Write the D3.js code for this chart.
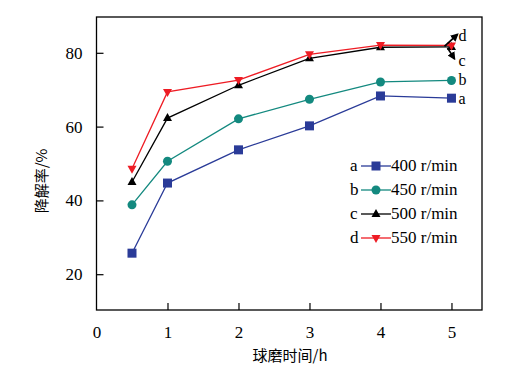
<!DOCTYPE html>
<html>
<head>
<meta charset="utf-8">
<script src="https://cdn.jsdelivr.net/npm/d3@7"></script>
<style>
  body { margin: 0; background: #fff; }
  svg { display: block; }
  .serif { font-family: "Liberation Serif", "Times New Roman", "DejaVu Serif", serif; }
  .cjk { font-family: "Noto Sans CJK SC", sans-serif; }
</style>
</head>
<body>
<svg id="chart" width="526" height="373"></svg>
<script>
// data
const times = [0.5, 1, 2, 3, 4, 5]
const seriesKeys = ["a", "b", "c", "d"]
const seriesLabels = ["400 r/min", "450 r/min", "500 r/min", "550 r/min"]
const valuesA = [25.7, 44.7, 53.7, 60.2, 68.3, 67.7]
const valuesB = [38.8, 50.6, 62.1, 67.4, 72.1, 72.5]
const valuesC = [45.0, 62.3, 71.2, 78.5, 81.5, 81.6]
const valuesD = [48.6, 69.4, 72.6, 79.6, 82.1, 82.0]
const xTicks = [0, 1, 2, 3, 4, 5]
const yTicks = [20, 40, 60, 80]

const colors = ["#2a3b98", "#13897f", "#000000", "#ee1c24"]
const symbols = ["square", "circle", "triUp", "triDown"]

const svg = d3.select("#chart")
const margin = { left: 96.5, right: 44, top: 17, bottom: 63 }
const width = 526, height = 373

const x = d3.scaleLinear().domain([0, 5.43]).range([margin.left, width - margin.right])
const y = d3.scaleLinear().domain([10.3, 89.7]).range([height - margin.bottom, margin.top])

const series = [valuesA, valuesB, valuesC, valuesD].map((vals, i) => ({
    key: seriesKeys[i],
    label: seriesLabels[i],
    color: colors[i],
    symbol: symbols[i],
    points: vals.map((v, j) => ({ t: times[j], v: v }))
}))

// frame
svg.append("rect")
    .attr("x", x.range()[0]).attr("y", y.range()[1])
    .attr("width", x.range()[1] - x.range()[0])
    .attr("height", y.range()[0] - y.range()[1])
    .attr("fill", "none").attr("stroke", "#000").attr("stroke-width", 1.3)

// axes, ticks inward
const xAxis = svg.append("g")
    .attr("transform", `translate(0,${y.range()[0]})`)
    .call(d3.axisBottom(x).tickValues(xTicks).tickFormat(d3.format("d"))
        .tickSizeInner(-7).tickSizeOuter(0).tickPadding(16))
const yAxis = svg.append("g")
    .attr("transform", `translate(${x.range()[0]},0)`)
    .call(d3.axisLeft(y).tickValues(yTicks).tickFormat(d3.format("d"))
        .tickSizeInner(-7).tickSizeOuter(0).tickPadding(14))

for (const ax of [xAxis, yAxis]) {
    ax.attr("font-family", null).attr("font-size", null)
    ax.select(".domain").remove()
    ax.selectAll("line").attr("stroke", "#000").attr("stroke-width", 1.2)
    ax.selectAll("text").attr("class", "serif").style("font-size", "17px").attr("fill", "#000")
}
xAxis.selectAll(".tick").filter(d => d === 0).select("line").remove()

// axis titles
svg.append("text")
    .attr("class", "cjk")
    .attr("x", 290).attr("y", 361)
    .attr("text-anchor", "middle")
    .style("font-size", "15px")
    .text("球磨时间/h")
svg.append("text")
    .attr("class", "cjk")
    .attr("transform", "translate(47,181) rotate(-90)")
    .attr("text-anchor", "middle")
    .style("font-size", "15px")
    .text("降解率/%")

const line = d3.line().x(d => x(d.t)).y(d => y(d.v))

function drawMarker(g, symbol, color, cx, cy) {
    if (symbol === "square") {
        g.append("rect").attr("x", cx - 4.5).attr("y", cy - 4.5)
            .attr("width", 9).attr("height", 9).attr("fill", color)
    } else if (symbol === "circle") {
        g.append("circle").attr("cx", cx).attr("cy", cy).attr("r", 4.5).attr("fill", color)
    } else if (symbol === "triUp") {
        g.append("path").attr("d", `M${cx},${cy - 5}L${cx + 4.5},${cy + 3}L${cx - 4.5},${cy + 3}Z`).attr("fill", color)
    } else {
        g.append("path").attr("d", `M${cx},${cy + 5}L${cx + 4.5},${cy - 3}L${cx - 4.5},${cy - 3}Z`).attr("fill", color)
    }
}

const plot = svg.append("g")
series.forEach(s => {
    plot.append("path").datum(s.points)
        .attr("d", line).attr("fill", "none")
        .attr("stroke", s.color).attr("stroke-width", 1.3)
    const mg = plot.append("g")
    s.points.forEach(p => drawMarker(mg, s.symbol, s.color, x(p.t), y(p.v)))
})

// end labels with arrows for c and d
svg.append("defs").append("marker")
    .attr("id", "arrow").attr("viewBox", "0 0 10 10")
    .attr("refX", 8).attr("refY", 5)
    .attr("markerWidth", 4.5).attr("markerHeight", 4.5)
    .attr("orient", "auto")
    .append("path").attr("d", "M0,0L10,5L0,10Z").attr("fill", "#000")

const last = times.length - 1
const ex = x(times[last])
svg.append("line")
    .attr("x1", ex - 7).attr("y1", y(valuesD[last]) + 1)
    .attr("x2", ex + 6).attr("y2", y(valuesD[last]) - 11)
    .attr("stroke", "#000").attr("stroke-width", 1.8).attr("marker-end", "url(#arrow)")
svg.append("line")
    .attr("x1", ex - 4).attr("y1", y(valuesC[last]) + 1)
    .attr("x2", ex + 3).attr("y2", y(valuesC[last]) + 12)
    .attr("stroke", "#000").attr("stroke-width", 1.8).attr("marker-end", "url(#arrow)")

const endLabels = [
    { t: "a", yy: y(valuesA[last]) + 6 },
    { t: "b", yy: y(valuesB[last]) + 5 },
    { t: "c", yy: y(valuesC[last]) + 19 },
    { t: "d", yy: y(valuesD[last]) - 4 }
]
svg.selectAll(".endlab").data(endLabels).join("text")
    .attr("class", "serif")
    .attr("x", ex + 7).attr("y", d => d.yy)
    .style("font-size", "16px")
    .text(d => d.t)

// legend
const legend = svg.append("g").attr("transform", "translate(350,166)")
series.forEach((s, i) => {
    const g = legend.append("g").attr("transform", `translate(0,${i * 24})`)
    g.append("text").attr("class", "serif").attr("x", 0).attr("y", 5)
        .style("font-size", "17px").text(s.key)
    g.append("line").attr("x1", 11).attr("x2", 41).attr("y1", 0).attr("y2", 0)
        .attr("stroke", s.color).attr("stroke-width", 1.3)
    drawMarker(g, s.symbol, s.color, 26, 0)
    g.append("text").attr("class", "serif").attr("x", 41).attr("y", 5)
        .style("font-size", "17px").text(s.label)
})
</script>
</body>
</html>
